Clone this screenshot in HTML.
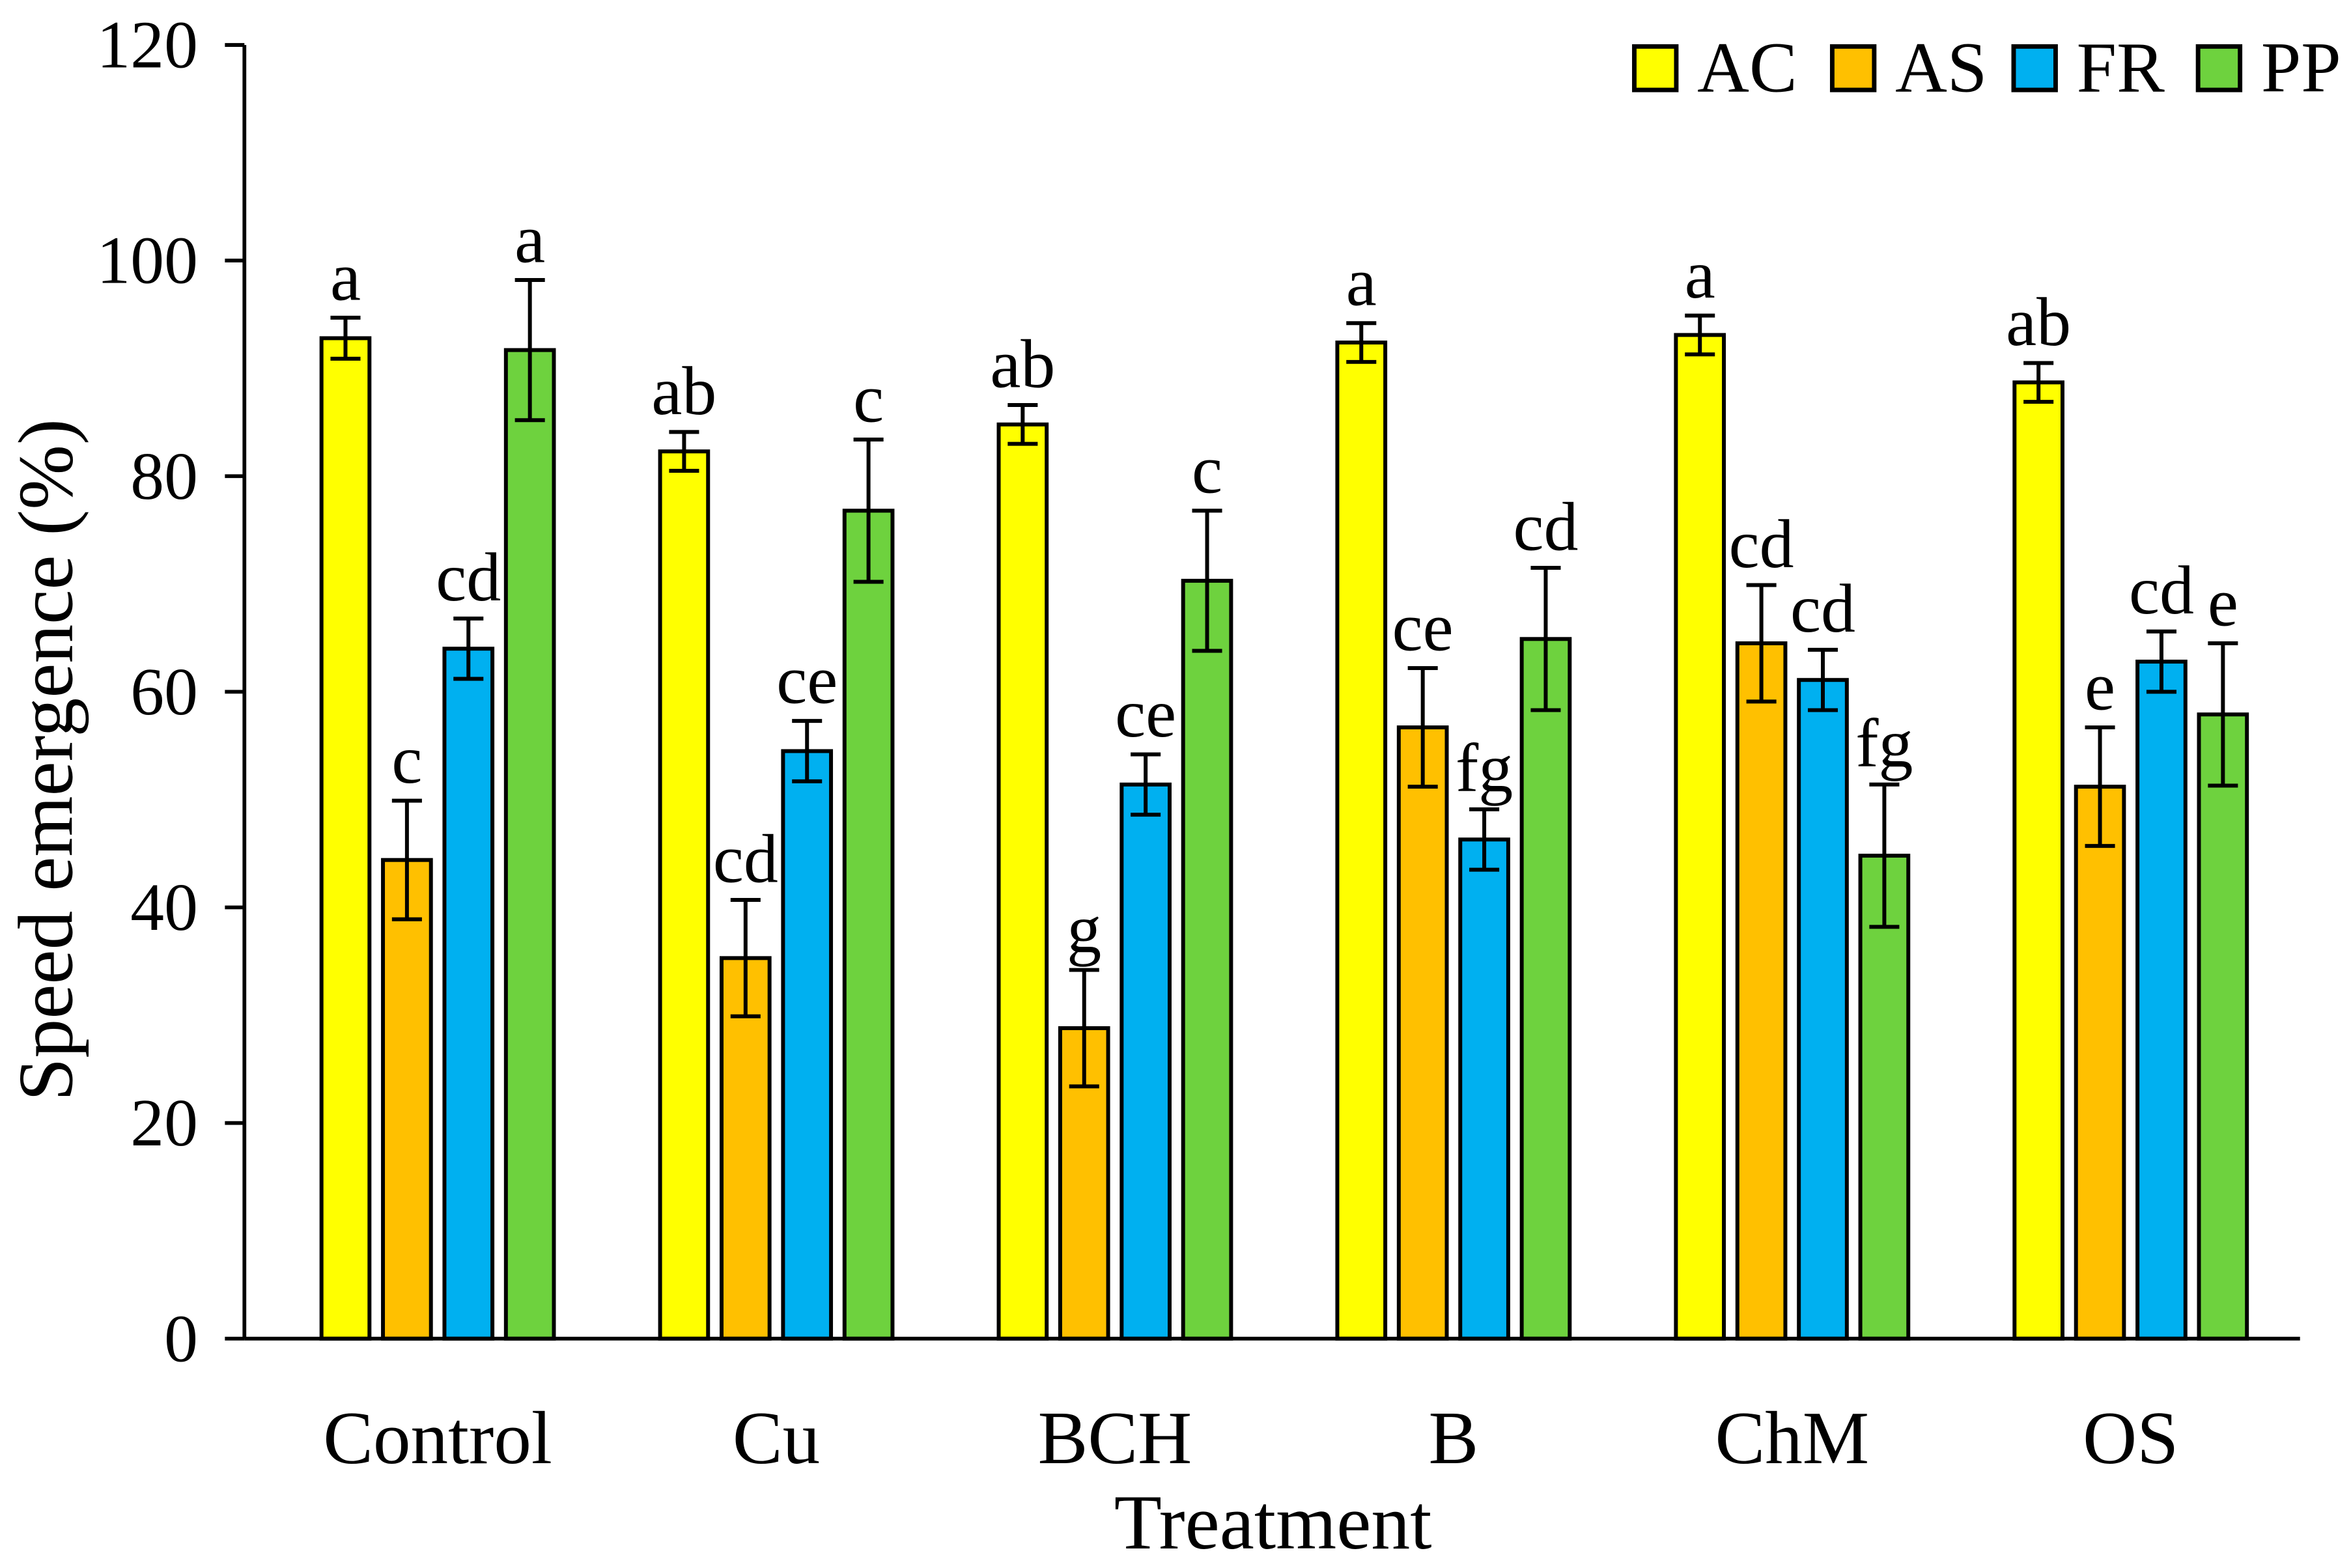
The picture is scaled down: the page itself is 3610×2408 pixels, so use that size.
<!DOCTYPE html>
<html><head><meta charset="utf-8"><style>
html,body{margin:0;padding:0;background:#fff;}
svg{display:block;}
text{font-family:"Liberation Serif",serif;fill:#000;}
</style></head><body>
<svg id="chart" width="3610" height="2408" viewBox="0 0 1568 1046" preserveAspectRatio="none" xmlns="http://www.w3.org/2000/svg">
<g id="plot"></g>
</svg>
<script>
const categories = ["Control","Cu","BCH","B","ChM","OS"];
const seriesNames = ["AC","AS","FR","PP"];
const seriesColors = ["#FFFF00","#FFC000","#00B0F0","#6ED23E"];
const acValues = [92.8,82.3,84.8,92.4,93.1,88.7];
const asValues = [44.4,35.3,28.8,56.7,64.5,51.2];
const frValues = [64.0,54.5,51.4,46.3,61.1,62.8];
const ppValues = [91.7,76.8,70.3,64.9,44.8,57.9];
const acErr = [1.9,1.8,1.8,1.8,1.8,1.8];
const asErr = [5.5,5.4,5.4,5.5,5.4,5.5];
const frErr = [2.8,2.8,2.8,2.8,2.8,2.8];
const ppErr = [6.5,6.6,6.5,6.6,6.6,6.6];
const acLetters = ["a","ab","ab","a","a","ab"];
const asLetters = ["c","cd","g","ce","cd","e"];
const frLetters = ["cd","ce","ce","fg","cd","cd"];
const ppLetters = ["a","c","c","cd","fg","e"];
const yTicks = [0,20,40,60,80,100,120];

const values=[acValues,asValues,frValues,ppValues];
const errs=[acErr,asErr,frErr,ppErr];
const letters=[acLetters,asLetters,frLetters,ppLetters];
const NS="http://www.w3.org/2000/svg";
const g=document.getElementById('plot');
const axL=163, axR=1534, y0=893, yTop=30, yMax=120;
const catStart=179, band=(axR-catStart)/categories.length;
const barW=32, barStep=41;
function yScale(v){return y0-(v/yMax)*(y0-yTop);}
function xCenter(i){return catStart+band*(i+0.5);}
function mk(tag,attrs){const e=document.createElementNS(NS,tag);for(const k in attrs)e.setAttribute(k,attrs[k]);return e;}

yTicks.forEach(t=>{
  const y=yScale(t);
  const l=mk('line',{x1:150,x2:axL,y1:y,y2:y,stroke:'#000','stroke-width':2.5});
  
  
  g.appendChild(l);
  const tx=mk('text',{x:132,y:y+15,'text-anchor':'end','font-size':45});
  tx.textContent=t;
  
  
  g.appendChild(tx);
});

categories.forEach((c,i)=>{
  const cx=xCenter(i);
  for(let s=0;s<4;s++){
    const v=values[s][i], e=errs[s][i];
    const bx=cx+(s-1.5)*barStep-barW/2;
    const r=mk('rect',{x:bx,y:yScale(v),width:barW,height:y0-yScale(v),fill:seriesColors[s],stroke:'#000','stroke-width':2.6});
    
    
    g.appendChild(r);
    const mx=bx+barW/2, yt=yScale(v+e), yb=yScale(v-e);
    const eb=mk('path',{d:`M${mx},${yt}V${yb}M${mx-10},${yt}H${mx+10}M${mx-10},${yb}H${mx+10}`,stroke:'#000','stroke-width':2.6,fill:'none'});
    
    
    g.appendChild(eb);
    const lt=mk('text',{x:mx,y:yt-12,'text-anchor':'middle','font-size':46});
    lt.textContent=letters[s][i];
    
    
    g.appendChild(lt);
  }
  const ct=mk('text',{x:cx,y:976,'text-anchor':'middle','font-size':50});
  ct.textContent=c;
  
  
  g.appendChild(ct);
});

const ya=mk('line',{x1:axL,x2:axL,y1:yTop,y2:y0,stroke:'#000','stroke-width':2.5});


g.appendChild(ya);
const xa=mk('line',{x1:axL,x2:axR,y1:y0,y2:y0,stroke:'#000','stroke-width':2.5});


g.appendChild(xa);

const yt=mk('text',{x:0,y:0,'text-anchor':'middle','font-size':52,transform:'translate(48,507) rotate(-90)'});
yt.textContent='Speed emergence (%)';


g.appendChild(yt);
const xt=mk('text',{x:849,y:1033,'text-anchor':'middle','font-size':52});
xt.textContent='Treatment';


g.appendChild(xt);

const legBoxX=[1090,1222,1343,1466];
seriesNames.forEach((n,s)=>{
  const r=mk('rect',{x:legBoxX[s],y:31,width:28,height:29,fill:seriesColors[s],stroke:'#000','stroke-width':3});
  
  
  g.appendChild(r);
  const t=mk('text',{x:legBoxX[s]+42,y:61,'font-size':48});
  t.textContent=n;
  
  
  g.appendChild(t);
});
</script>
</body></html>
